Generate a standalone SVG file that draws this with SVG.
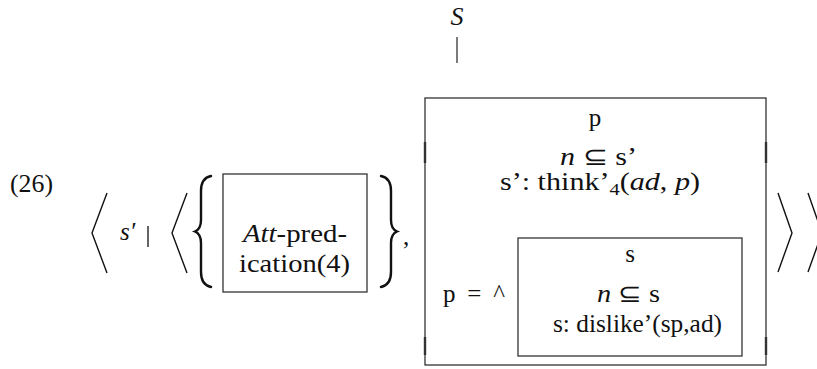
<svg xmlns="http://www.w3.org/2000/svg" width="817" height="369" viewBox="0 0 817 369">
<style>
.it{font-style:italic}
.c{text-anchor:middle}
.box{fill:none;stroke:#333;stroke-width:1.3}
.br{fill:none;stroke:#111;stroke-width:1.4;stroke-linejoin:miter}
.brace{fill:none;stroke:#111;stroke-width:2.4;stroke-linecap:round}
</style>
<rect width="817" height="369" fill="#fff"/>
<text x="10" y="192" font-family="'Liberation Serif', serif" font-size="25" fill="#111" textLength="43" lengthAdjust="spacingAndGlyphs">(26)</text>
<g id="outer-brackets">
<polyline class="br" points="107,193 92,233 107,273"/>
<text class="it" x="120" y="240" font-family="'Liberation Serif', serif" font-size="25" fill="#111">s′</text>
<line x1="148" y1="226" x2="148" y2="247" stroke="#111" stroke-width="1.3"/>
<polyline class="br" points="187,193 172,233 187,273"/>
<path class="brace" d="M211,176 Q201,178 201,191 L201,220 Q201,229 195,231.5 Q201,234 201,243 L201,272 Q201,285 211,287"/>
<path class="brace" d="M381,176 Q391,178 391,191 L391,220 Q391,229 397,231.5 Q391,234 391,243 L391,272 Q391,285 381,287"/>
<text x="403" y="245" font-family="'Liberation Serif', serif" font-size="25" fill="#111">,</text>
<polyline class="br" points="778,193 792,233 778,272"/>
<polyline class="br" points="808,193 822,233 808,272"/>
</g>
<g id="att">
<rect class="box" x="223" y="174" width="144" height="118"/>
<text x="243" y="242" font-family="'Liberation Serif', serif" font-size="25" fill="#111" textLength="104" lengthAdjust="spacingAndGlyphs"><tspan class="it">Att</tspan>-pred-</text>
<text x="239" y="272" font-family="'Liberation Serif', serif" font-size="25" fill="#111" textLength="111" lengthAdjust="spacingAndGlyphs">ication(4)</text>
</g>
<g id="S">
<text class="it c" x="457" y="25" font-family="'Liberation Serif', serif" font-size="26" fill="#111">S</text>
</g>
<g id="connectors">
<line x1="457" y1="37" x2="457" y2="63" stroke="#333" stroke-width="1.3"/>
</g>
<g id="drs-p">
<rect class="box" x="425" y="98" width="341" height="267"/>
<line x1="425" y1="142" x2="425" y2="163" stroke="#333" stroke-width="2.4"/>
<line x1="425" y1="337" x2="425" y2="355" stroke="#333" stroke-width="2.4"/>
<line x1="766" y1="142" x2="766" y2="163" stroke="#333" stroke-width="2.4"/>
<line x1="766" y1="337" x2="766" y2="355" stroke="#333" stroke-width="2.4"/>
<text class="c" x="595" y="126" font-family="'Liberation Serif', serif" font-size="25" fill="#111">p</text>
<text x="560" y="165" font-family="'Liberation Serif', serif" font-size="25" fill="#111" textLength="77" lengthAdjust="spacingAndGlyphs"><tspan class="it">n</tspan> ⊆ s’</text>
<text x="500" y="190" font-family="'Liberation Serif', serif" font-size="25" fill="#111" textLength="200" lengthAdjust="spacingAndGlyphs">s’: think’<tspan font-size="17" dy="5">4</tspan><tspan dy="-5">(</tspan><tspan class="it">ad</tspan>, <tspan class="it">p</tspan>)</text>
<text x="443" y="302" font-family="'Liberation Serif', serif" font-size="25" fill="#111" textLength="62" lengthAdjust="spacing">p = ^</text>
</g>
<g id="drs-s">
<rect class="box" x="518" y="238" width="224" height="118"/>
<text class="c" x="630" y="262" font-family="'Liberation Serif', serif" font-size="25" fill="#111">s</text>
<text x="597" y="302" font-family="'Liberation Serif', serif" font-size="25" fill="#111" textLength="63" lengthAdjust="spacingAndGlyphs"><tspan class="it">n</tspan> ⊆ s</text>
<text x="553" y="332" font-family="'Liberation Serif', serif" font-size="25" fill="#111" textLength="169" lengthAdjust="spacingAndGlyphs">s: dislike’(sp,ad)</text>
</g>
</svg>
